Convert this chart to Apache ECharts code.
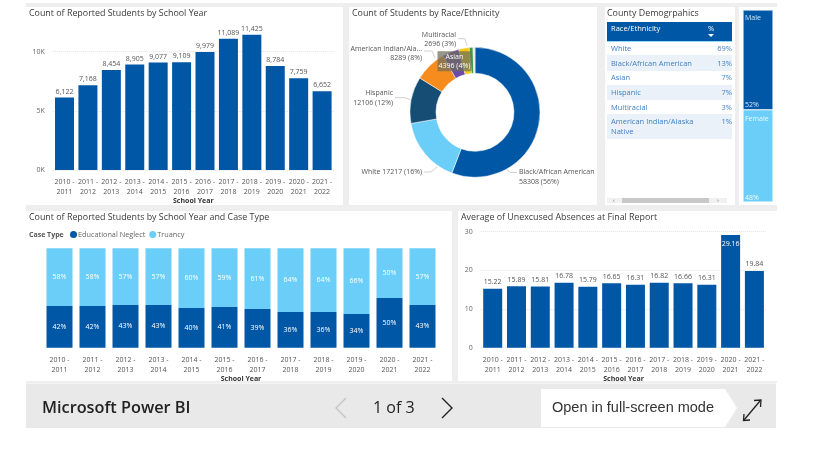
<!DOCTYPE html>
<html><head><meta charset="utf-8">
<style>html,body{margin:0;padding:0;background:#fff}#c{width:815px;height:458px}</style>
<script src="https://cdn.jsdelivr.net/npm/echarts@6/dist/echarts.min.js"></script></head>
<body><div id="c"></div>
<script>
const years = ['2010 -\n2011','2011 -\n2012','2012 -\n2013','2013 -\n2014','2014 -\n2015','2015 -\n2016','2016 -\n2017','2017 -\n2018','2018 -\n2019','2019 -\n2020','2020 -\n2021','2021 -\n2022'];
const students = [6122,7168,8454,8905,9077,9109,9979,11089,11425,8784,7759,6652];
const neglect = [42,42,43,43,40,41,39,36,36,34,50,43];
const truancy = [58,58,57,57,60,59,61,64,64,66,50,57];
const absences = [15.22,15.89,15.81,16.78,15.79,16.65,16.31,16.82,16.66,16.31,29.16,19.84];
const raceNames = ['Black/African American','White','Hispanic','American Indian/Ala...','Asian','Multiracial','Other','Unknown'];
const raceCounts = [58308,17217,12106,8289,4396,2696,1000,500];
const racePct = [56,16,12,8,4,3,1,0];
const demoNames = ['White','Black/African American','Asian','Hispanic','Multiracial','American Indian/Alaska\nNative'];
const demoPct = ['69%','13%','7%','7%','3%','1%'];
const genders = ['Male','Female'];
const genderPct = [52,48];

const FONT = '"Open Sans","Noto Sans",sans-serif';
const BLUE='#0057A6', SKY='#6BCEF8', TXT='#555', TITLE='#3a3a3a';
const raceColors=[BLUE,SKY,'#164D74','#F68B1E','#6C4AA8','#F5C90F','#3E9B4F','#DDE8E2'];
// label anchors and leader lines for the donut
const raceLabelPos=[
 {x:519,y:177,align:'left',line:[[505,167],[510,172.5],[517,172.5]]},
 {x:422,y:172,align:'right',line:[[437,167],[431,172],[424,172]]},
 {x:393,y:98,align:'right',line:[[411,100],[405,97.7],[395,97.7]]},
 {x:422,y:53.5,align:'right',line:[[435,58],[432,51],[424,51]]},
 null,
 {x:456,y:39.5,align:'right',line:[[467,46],[465,38.7],[458,38.7]]},
 null,null];

function yrAxis(gridIndex,gap){return {type:'category',gridIndex,data:years,
  axisTick:{show:false},axisLine:{show:false},
  axisLabel:{interval:0,fontSize:7,color:TXT,lineHeight:10,margin:7,fontFamily:FONT},
  name:'School Year',nameLocation:'middle',nameGap:gap,
  nameTextStyle:{fontSize:7,fontWeight:'bold',color:'#333',fontFamily:FONT}};}
function valAxis(gridIndex,max,interval,fmt,show){return {type:'value',gridIndex,min:0,max,interval,show:show!==false,
  axisLine:{show:false},axisTick:{show:false},
  axisLabel:{fontSize:7,color:'#666',margin:8,fontFamily:FONT,formatter:fmt,showMaxLabel:max==30},
  splitLine:{showMaxLine:max==30,lineStyle:{type:'dotted',color:'#e4e4e4',width:1}}};}

const rects=[
 [26,3,751,380,'#eeeeee'],
 [26,7,317,198,'#fff'],[349,7,248,198,'#fff'],[605,7,130,198,'#fff'],[739,7,38,198,'#fff'],
 [26,211,426,170,'#fff'],[458,211,319,170,'#fff'],
 [26,383.5,750,44.5,'#e9e9e9']];
const graphic=rects.map(r=>({type:'rect',z:-10,shape:{x:r[0],y:r[1],width:r[2],height:r[3]},style:{fill:r[4]},silent:true}));
function txt(x,y,text,o){return Object.assign({type:'text',z:5,x,y,silent:true,style:Object.assign({text,fill:TXT,font:'7px '+FONT,textVerticalAlign:'middle',verticalAlign:'middle'},o||{})});}

// case type legend caption
graphic.push(txt(29,235,'Case Type',{font:'bold 7px '+FONT,fill:'#555'}));

// demographics table
graphic.push({type:'rect',z:1,shape:{x:607,y:22,width:125,height:19},style:{fill:BLUE}});
graphic.push({type:'rect',z:1,shape:{x:607,y:41,width:125,height:0.8},style:{fill:SKY}});
graphic.push(txt(611,29,'Race/Ethnicity',{fill:'#fff',font:'7.5px '+FONT}));
graphic.push(txt(711,29,'%',{fill:'#fff',font:'7.5px '+FONT,align:'center',textAlign:'center'}));
graphic.push({type:'polygon',z:2,shape:{points:[[708,34],[714,34],[711,37]]},style:{fill:'#fff'}});
const rowY=[49,64,78,93,108,127], bands=[null,[55,16],null,[85,15],null,[114,25]];
demoNames.forEach((n,i)=>{
  if(bands[i])graphic.push({type:'rect',z:1,shape:{x:607,y:bands[i][0],width:125,height:bands[i][1]},style:{fill:'#EAF1F8'}});
  graphic.push(txt(611,rowY[i],n,{fill:'#3F7FC4',font:'7.5px '+FONT,lineHeight:10}));
  const py=i==5?122:rowY[i];
  graphic.push(txt(732,py,demoPct[i],{fill:'#3F7FC4',font:'7.5px '+FONT,align:'right',textAlign:'right'}));
});
graphic.push({type:'rect',z:1,shape:{x:607,y:198,width:120,height:5},style:{fill:'#f1f1f1'}});
graphic.push({type:'rect',z:2,shape:{x:622,y:198,width:87,height:5},style:{fill:'#c8c8c8'}});
graphic.push(txt(614,200.5,'‹',{fill:'#666',font:'6px '+FONT,align:'center',textAlign:'center'}));
graphic.push(txt(718,200.5,'›',{fill:'#666',font:'6px '+FONT,align:'center',textAlign:'center'}));

// gender captions
graphic.push(txt(745,18,genders[0],{fill:'#d7e6f5',font:'7px '+FONT}));
graphic.push(txt(745,105,genderPct[0]+'%',{fill:'#d7e6f5',font:'7px '+FONT}));
graphic.push(txt(745,119,genders[1],{fill:'#eefaff',font:'7px '+FONT}));
graphic.push(txt(745,198,genderPct[1]+'%',{fill:'#eefaff',font:'7px '+FONT}));

// footer
graphic.push(txt(42,408,'Microsoft Power BI',{fill:'#222',font:'600 16.3px '+FONT}));
graphic.push(txt(373,408,'1 of 3',{fill:'#222',font:'16px '+FONT}));
graphic.push({type:'polyline',z:5,shape:{points:[[346,398],[336,408],[346,418]]},style:{stroke:'#c4c4c4',lineWidth:1.4,fill:'none'}});
graphic.push({type:'polyline',z:5,shape:{points:[[442,398],[452,408],[442,418]]},style:{stroke:'#222',lineWidth:1.4,fill:'none'}});
graphic.push({type:'polygon',z:5,shape:{points:[[541,389],[725,389],[737,408],[725,427],[541,427]]},style:{fill:'#fff'}});
graphic.push(txt(552,408,'Open in full-screen mode',{fill:'#333',font:'14.5px "Liberation Sans",Arial,sans-serif'}));
graphic.push({type:'line',z:5,shape:{x1:744,y1:420,x2:760,y2:401},style:{stroke:'#222',lineWidth:1.3}});
graphic.push({type:'polyline',z:5,shape:{points:[[744,414],[743.5,420.5],[750,420]]},style:{stroke:'#222',lineWidth:1.3,fill:'none'}});
graphic.push({type:'polyline',z:5,shape:{points:[[754,400.5],[761,400],[760.5,407]]},style:{stroke:'#222',lineWidth:1.3,fill:'none'}});

const titleOf=(text,left,top)=>({text,left,top,textStyle:{fontSize:8.9,fontWeight:'normal',color:TITLE,fontFamily:FONT},padding:0});
const option={
 animation:false,
 textStyle:{fontFamily:FONT},
 title:[titleOf('Count of Reported Students by School Year',29,9),titleOf('Count of Students by Race/Ethnicity',352,9),
   titleOf('County Demogrpahics',607,9),titleOf('Count of Reported Students by School Year and Case Type',29,213),
   titleOf('Average of Unexcused Absences at Final Report',461,213)],
 graphic,
 legend:{left:70,top:231,itemWidth:7,itemHeight:7,itemGap:4,icon:'circle',padding:0,
   data:['Educational Neglect','Truancy'],textStyle:{fontSize:7.3,color:'#666',padding:[0,0,0,-4],fontFamily:FONT}},
 grid:[
  {left:52.8,top:28,width:281,height:142},
  {left:43,top:248.3,width:396,height:99.4},
  {left:480.8,top:231.7,width:285.5,height:116},
  {left:743,top:10,width:30,height:192}],
 xAxis:[yrAxis(0,16),yrAxis(1,16),yrAxis(2,16),
   {type:'category',gridIndex:3,data:['Gender'],show:false}],
 yAxis:[valAxis(0,12000,5000,v=>(v/1000)+'K'),
   valAxis(1,100,50,null,false),
   valAxis(2,30,10),
   {type:'value',gridIndex:3,inverse:true,min:0,max:100,show:false}],
 series:[
  {type:'bar',xAxisIndex:0,yAxisIndex:0,data:students,barWidth:19,itemStyle:{color:BLUE},
   label:{show:true,position:'top',distance:2.5,fontSize:7,color:TXT,formatter:p=>p.value.toLocaleString('en-US')}},
  {name:'Educational Neglect',type:'bar',stack:'c',xAxisIndex:1,yAxisIndex:1,data:neglect,barWidth:26,itemStyle:{color:BLUE},
   label:{show:true,position:'inside',fontSize:7,color:'#fff',formatter:'{c}%'}},
  {name:'Truancy',type:'bar',stack:'c',xAxisIndex:1,yAxisIndex:1,data:truancy,barWidth:26,itemStyle:{color:SKY},
   label:{show:true,position:'inside',fontSize:7,color:'#fff',formatter:'{c}%'}},
  {type:'bar',xAxisIndex:2,yAxisIndex:2,barWidth:19,itemStyle:{color:BLUE},
   data:absences.map(v=>v>25?{value:v,label:{position:'insideTop',color:'#fff',distance:6}}:v),
   label:{show:true,position:'top',distance:3,fontSize:7,color:TXT,formatter:p=>p.value.toFixed(2)}},
  {type:'bar',stack:'g',xAxisIndex:3,yAxisIndex:3,data:[genderPct[0]],barWidth:30,itemStyle:{color:BLUE,borderColor:'#fff',borderWidth:0.5},name:genders[0]},
  {type:'bar',stack:'g',xAxisIndex:3,yAxisIndex:3,data:[genderPct[1]],barWidth:30,itemStyle:{color:SKY,borderColor:'#fff',borderWidth:0.5},name:genders[1]},
  {type:'pie',center:[475,112.3],radius:[39,65],startAngle:90,clockwise:true,z:3,
   itemStyle:{borderColor:'#fff',borderWidth:0.5},
   data:raceNames.map((n,i)=>{
     const d={name:n,value:raceCounts[i],itemStyle:{color:raceColors[i]}};
     const lab=n+(n.length>6&&i!=1?'\n':' ')+raceCounts[i]+' ('+racePct[i]+'%)';
     if(i==4){d.label={show:true,position:'inside',formatter:n+'\n'+raceCounts[i]+' ('+racePct[i]+'%)',color:'#fff',fontSize:7,lineHeight:9,align:'center',
        backgroundColor:'rgba(110,110,90,0.72)',padding:[1,1]};d.labelLine={show:false};}
     else if(raceLabelPos[i]){d.label={show:true,position:'outside',formatter:lab,color:TXT,fontSize:7,lineHeight:9.5,align:raceLabelPos[i].align};d.labelLine={show:true};}
     else {d.label={show:false};d.labelLine={show:false};}
     return d;}),
   labelLine:{lineStyle:{color:'#c4c4c4',width:0.8},length:6,length2:8},
   labelLayout:function(p){const q=raceLabelPos[p.dataIndex];return q?{x:q.x,y:q.y,align:q.align,verticalAlign:'middle',hideOverlap:false,labelLinePoints:q.line}:{};},
   emphasis:{disabled:true}}
 ]};
const chart=echarts.init(document.getElementById('c'),null,{renderer:'canvas'});
chart.setOption(option);
</script></body></html>
